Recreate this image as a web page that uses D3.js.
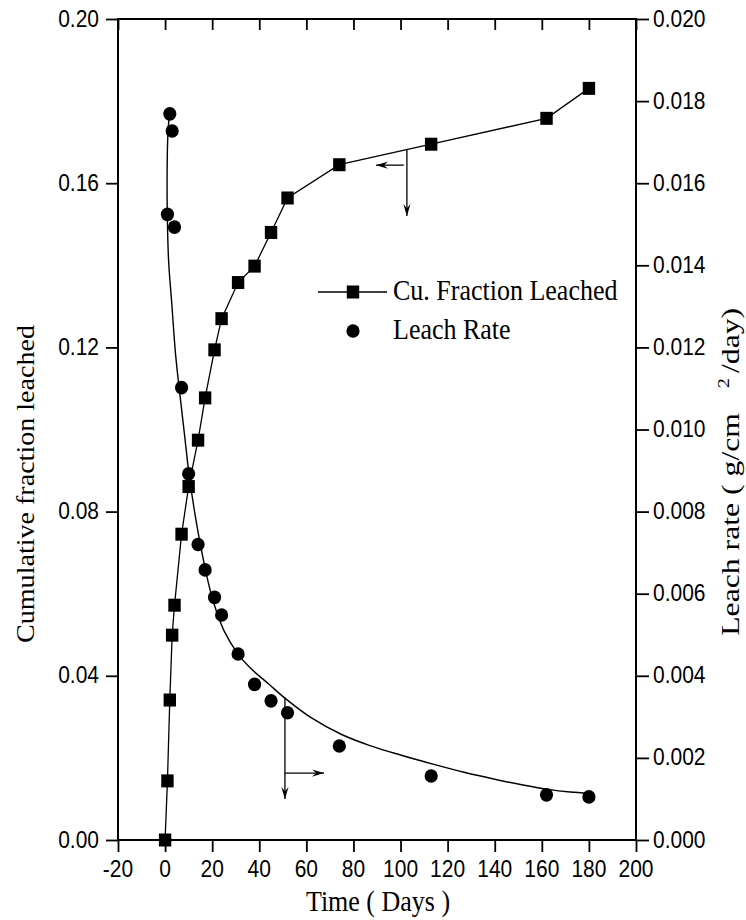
<!DOCTYPE html>
<html><head><meta charset="utf-8">
<script src="https://cdn.jsdelivr.net/npm/d3@7/dist/d3.min.js"></script>
<style>body{margin:0;background:#fff}svg{display:block}</style>
</head><body>
<svg id="c" width="746" height="920"></svg>
<script>
// ---- data ----
const timeCu = [0, 1, 2, 3, 4, 7, 10, 14, 17, 21, 24, 31, 38, 45, 52, 74, 113, 162, 180];
const fracCu = [0.000, 0.0144, 0.0341, 0.0499, 0.0572, 0.0745, 0.0861, 0.0974, 0.1077, 0.1194,
                0.1270, 0.1358, 0.1398, 0.1480, 0.1564, 0.1645, 0.1695, 0.1758, 0.1831];
const timeRate = [1, 2, 3, 4, 7, 10, 14, 17, 21, 24, 31, 38, 45, 52, 74, 113, 162, 180];
const leachRate = [0.01524, 0.01769, 0.01727, 0.01493, 0.01102, 0.00892, 0.00720, 0.00658, 0.00591,
                   0.00548, 0.00453, 0.00379, 0.00339, 0.00310, 0.00229, 0.00156, 0.00110, 0.00105];
// fitted leach-rate curve as drawn in the reference
const fitTime = [2.0, 1.2, 0.85, 0.95, 1.5, 2.8, 4.5, 6.2, 8.2, 10.2, 12.8, 16, 20, 25, 31, 36, 44, 51,
                 62, 75, 87, 100, 113, 127, 140, 152, 162, 172, 180];
const fitRate = [0.0178, 0.0172, 0.0162, 0.0152, 0.0141, 0.0131, 0.0118, 0.0109, 0.0099, 0.0089, 0.0079,
                 0.0069, 0.0059, 0.0051, 0.00453, 0.0042, 0.0038, 0.00345, 0.00298, 0.00257, 0.00230,
                 0.00207, 0.00186, 0.00165, 0.00148, 0.00134, 0.00124, 0.00117, 0.00114];
const xTicks = [-20, 0, 20, 40, 60, 80, 100, 120, 140, 160, 180, 200];
const yLeftTicks = [0.00, 0.04, 0.08, 0.12, 0.16, 0.20];
const yRightTicks = [0.000, 0.002, 0.004, 0.006, 0.008, 0.010, 0.012, 0.014, 0.016, 0.018, 0.020];
const seriesNames = ["Cu. Fraction Leached", "Leach Rate"];
const xTitle = "Time ( Days )";
const yLeftTitle = "Cumulative fraction leached";

// ---- layout ----
const L = 118, R = 636, T = 19, B = 840;
const SY = 1.12; // vertical stretch of the lettering
const sans = "'Liberation Sans', Arial, sans-serif";
const serif = "'Liberation Serif', 'Times New Roman', serif";

const x = d3.scaleLinear().domain([-20, 200]).range([L, R]);
const yL = d3.scaleLinear().domain([0, 0.2]).range([B, T]);
const yR = d3.scaleLinear().domain([0, 0.02]).range([B, T]);

const svg = d3.select("#c");
svg.append("rect").attr("width", 746).attr("height", 920).attr("fill", "#fff");

function txt(px, py, str, o) {
  o = o || {};
  const t = svg.append("text")
    .attr("transform", `translate(${px},${py})` + (o.rot ? ` rotate(${o.rot})` : "") +
      (o.rot ? ` scale(${o.sx || SY},1)` : ` scale(1,${o.sy || SY})`))
    .attr("font-family", o.family || sans)
    .attr("font-size", o.size || 21)
    .attr("text-anchor", o.anchor || "middle")
    .attr("fill", "#000")
    .text(str);
  return t;
}

// ---- axes (ticks via d3 axes) ----
const minorX = d3.range(-20, 201, 10);
const gB = svg.append("g").attr("transform", `translate(0,${B})`);
gB.call(d3.axisBottom(x).tickValues(minorX).tickSize(7).tickFormat(""));
gB.call(d3.axisBottom(x).tickValues(xTicks).tickSize(12).tickFormat(""));
const gT = svg.append("g").attr("transform", `translate(0,${T})`);
gT.call(d3.axisBottom(x).tickValues(minorX).tickSize(6).tickFormat(""));
gT.call(d3.axisBottom(x).tickValues(xTicks).tickSize(11).tickFormat(""));

const minorYL = d3.range(0, 0.2001, 0.008);
const gL = svg.append("g").attr("transform", `translate(${L},0)`);
gL.call(d3.axisLeft(yL).tickValues(minorYL).tickSize(6).tickFormat(""));
gL.call(d3.axisLeft(yL).tickValues(yLeftTicks).tickSize(12).tickFormat(""));

const minorYR = d3.range(0, 0.02001, 0.0004);
const gR = svg.append("g").attr("transform", `translate(${R},0)`);
gR.call(d3.axisRight(yR).tickValues(minorYR).tickSize(7).tickFormat(""));
gR.call(d3.axisRight(yR).tickValues(yRightTicks).tickSize(13).tickFormat(""));

svg.selectAll(".domain").remove();
svg.selectAll(".tick line").attr("stroke", "#000").attr("stroke-width", 1.8);

// frame
svg.append("rect").attr("x", L).attr("y", T).attr("width", R - L).attr("height", B - T)
  .attr("fill", "none").attr("stroke", "#000").attr("stroke-width", 2);

// tick labels
xTicks.forEach(v => txt(x(v), 877, String(v)));
yLeftTicks.forEach(v => txt(99, yL(v) + 7.5, v.toFixed(2), {anchor: "end"}));
yRightTicks.forEach(v => txt(653, yR(v) + 7.5, v.toFixed(3), {anchor: "start"}));

// titles
txt(378, 911, xTitle, {family: serif, size: 26});
txt(34, 484, yLeftTitle, {family: serif, size: 26, rot: -90, sx: 1.08});
txt(739, 413, "Leach rate ( g/cm", {family: serif, size: 26, rot: -90, anchor: "end", sx: 1.22});
txt(729, 388, "2", {family: serif, size: 16, rot: -90, anchor: "start", sx: 1.22});
txt(739, 373, "/day)", {family: serif, size: 26, rot: -90, anchor: "start", sx: 1.22});

// ---- data marks ----
const plot = svg.append("g");
const cuData = timeCu.map((t, i) => [t, fracCu[i]]);
plot.append("path").datum(cuData)
  .attr("d", d3.line().x(d => x(d[0])).y(d => yL(d[1])))
  .attr("fill", "none").attr("stroke", "#000").attr("stroke-width", 1.3);
plot.selectAll("rect.sq").data(cuData).join("rect").attr("class", "sq")
  .attr("x", d => x(d[0]) - 6.2).attr("y", d => yL(d[1]) - 6.5)
  .attr("width", 12.4).attr("height", 13).attr("fill", "#000");

const fitData = fitTime.map((t, i) => [t, fitRate[i]]);
plot.append("path").datum(fitData)
  .attr("d", d3.line().x(d => x(d[0])).y(d => yR(d[1])).curve(d3.curveCatmullRom.alpha(0.5)))
  .attr("fill", "none").attr("stroke", "#000").attr("stroke-width", 1.4);
const rateData = timeRate.map((t, i) => [t, leachRate[i]]);
plot.selectAll("ellipse.ci").data(rateData).join("ellipse").attr("class", "ci")
  .attr("cx", d => x(d[0])).attr("cy", d => yR(d[1]))
  .attr("rx", 6.6).attr("ry", 6.8).attr("fill", "#000");

// ---- arrows indicating the axis of each series ----
function arrow(x1, y1, x2, y2) {
  plot.append("line").attr("x1", x1).attr("y1", y1).attr("x2", x2).attr("y2", y2)
    .attr("stroke", "#000").attr("stroke-width", 1.3);
  const a = Math.atan2(y2 - y1, x2 - x1), len = 12, hw = 3.6;
  const bx = x2 - len * Math.cos(a), by = y2 - len * Math.sin(a);
  const nx = -Math.sin(a) * hw, ny = Math.cos(a) * hw;
  plot.append("path")
    .attr("d", `M${x2},${y2}L${bx + nx},${by + ny}L${bx + 0.35 * len * Math.cos(a)},${by + 0.35 * len * Math.sin(a)}L${bx - nx},${by - ny}Z`)
    .attr("fill", "#000");
}
// arrows for cumulative fraction (pointing to left axis)
arrow(x(102.7), yL(0.1681), x(102.7), yL(0.152));
arrow(x(101.4), yL(0.1644), x(89.6), yL(0.1644));
// arrows for leach rate (pointing to right axis)
arrow(x(50.9), yR(0.00348), x(50.9), yR(0.0010));
arrow(x(50.9), yR(0.00163), x(67.5), yR(0.00163));

// ---- legend ----
const lg = svg.append("g");
lg.append("line").attr("x1", 318).attr("x2", 387).attr("y1", 292).attr("y2", 292)
  .attr("stroke", "#000").attr("stroke-width", 1.3);
lg.append("rect").attr("x", 346.8).attr("y", 285.5).attr("width", 12.4).attr("height", 13).attr("fill", "#000");
lg.append("ellipse").attr("cx", 353).attr("cy", 331).attr("rx", 6.6).attr("ry", 6.8).attr("fill", "#000");
txt(393, 300, seriesNames[0], {family: serif, size: 26, anchor: "start"});
txt(393, 339, seriesNames[1], {family: serif, size: 26, anchor: "start"});
</script>
</body></html>
